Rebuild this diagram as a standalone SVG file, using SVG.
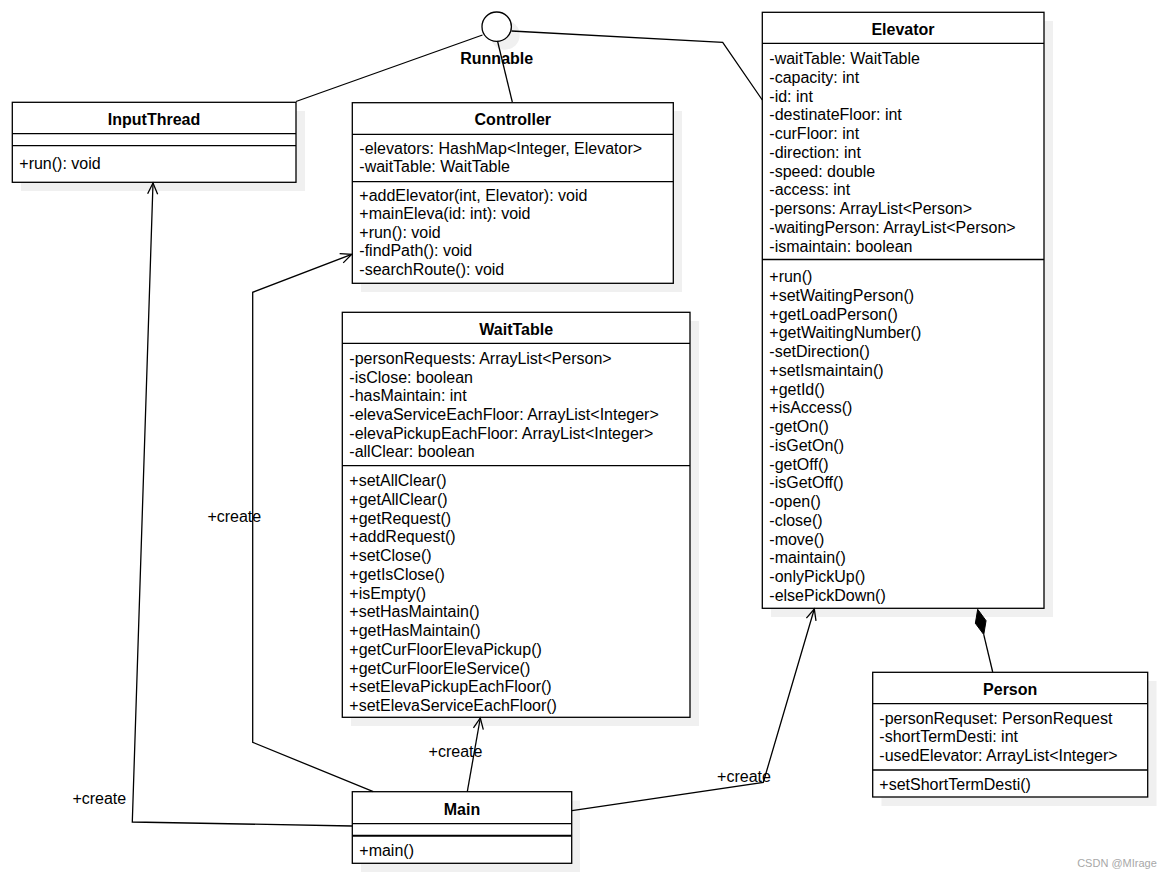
<svg xmlns="http://www.w3.org/2000/svg" width="1171" height="879" viewBox="0 0 1171 879">
<style>
.box{fill:#fff;stroke:#000;stroke-width:1.3}
.sh{fill:#f0f0f0}
.sep{stroke:#000;stroke-width:1.3}
.t{font-family:"Liberation Sans",Arial,sans-serif;font-size:16px;fill:#000}
.h{font-family:"Liberation Sans",Arial,sans-serif;font-size:16px;font-weight:bold;fill:#000;text-anchor:middle}
.ln{fill:none;stroke:#000;stroke-width:1.3}
</style>
<defs>
<marker id="open" markerUnits="userSpaceOnUse" markerWidth="14" markerHeight="14" viewBox="-12 -7 14 14" refX="0" refY="0" orient="auto">
<path d="M-11,-5 L0,0 L-11,5" fill="none" stroke="#000" stroke-width="1.3"/>
</marker>
</defs>
<rect width="1171" height="879" fill="#fff"/>

<g id="runnable">
<circle cx="505" cy="35" r="14.7" class="sh"/>
<circle cx="496.7" cy="26.7" r="14.7" fill="#fff" stroke="#000" stroke-width="1.3"/>
<text class="h" x="496.7" y="63.8">Runnable</text>
</g>

<g id="inputthread">
<rect class="sh" x="21" y="111" width="284" height="80"/>
<rect class="box" x="12.3" y="102.3" width="283.7" height="80"/>
<line class="sep" x1="12.3" y1="133.7" x2="296" y2="133.7"/>
<line class="sep" x1="12.3" y1="145.7" x2="296" y2="145.7"/>
<text class="h" x="154" y="124.5">InputThread</text>
<text class="t" x="19.3" y="168.8">+run(): void</text>
</g>

<g id="controller">
<rect class="sh" x="361" y="111" width="321" height="181"/>
<rect class="box" x="352.3" y="102.7" width="321" height="180.6"/>
<line class="sep" x1="352.3" y1="134.3" x2="673.3" y2="134.3"/>
<line class="sep" x1="352.3" y1="181.7" x2="673.3" y2="181.7"/>
<text class="h" x="512.8" y="124.5">Controller</text>
<text class="t" x="359.3" y="153.8">-elevators: HashMap&lt;Integer, Elevator&gt;</text>
<text class="t" x="359.3" y="171.5">-waitTable: WaitTable</text>
<text class="t" x="359.3" y="200.5">+addElevator(int, Elevator): void</text>
<text class="t" x="359.3" y="218.8">+mainEleva(id: int): void</text>
<text class="t" x="359.3" y="238.2">+run(): void</text>
<text class="t" x="359.3" y="256.2">-findPath(): void</text>
<text class="t" x="359.3" y="274.8">-searchRoute(): void</text>
</g>

<g id="elevator">
<rect class="sh" x="771" y="21" width="282" height="596"/>
<rect class="box" x="762.3" y="12.3" width="281.7" height="596"/>
<line class="sep" x1="762.3" y1="43.3" x2="1044" y2="43.3"/>
<line class="sep" x1="762.3" y1="259.5" x2="1044" y2="259.5"/>
<text class="h" x="903" y="34.7">Elevator</text>
<text class="t" x="769.3" y="64.2">-waitTable: WaitTable</text>
<text class="t" x="769.3" y="82.9">-capacity: int</text>
<text class="t" x="769.3" y="101.7">-id: int</text>
<text class="t" x="769.3" y="120.4">-destinateFloor: int</text>
<text class="t" x="769.3" y="139.1">-curFloor: int</text>
<text class="t" x="769.3" y="157.9">-direction: int</text>
<text class="t" x="769.3" y="176.6">-speed: double</text>
<text class="t" x="769.3" y="195.3">-access: int</text>
<text class="t" x="769.3" y="214.0">-persons: ArrayList&lt;Person&gt;</text>
<text class="t" x="769.3" y="232.8">-waitingPerson: ArrayList&lt;Person&gt;</text>
<text class="t" x="769.3" y="251.5">-ismaintain: boolean</text>
<text class="t" x="769.3" y="282.2">+run()</text>
<text class="t" x="769.3" y="300.9">+setWaitingPerson()</text>
<text class="t" x="769.3" y="319.7">+getLoadPerson()</text>
<text class="t" x="769.3" y="338.4">+getWaitingNumber()</text>
<text class="t" x="769.3" y="357.2">-setDirection()</text>
<text class="t" x="769.3" y="375.9">+setIsmaintain()</text>
<text class="t" x="769.3" y="394.6">+getId()</text>
<text class="t" x="769.3" y="413.4">+isAccess()</text>
<text class="t" x="769.3" y="432.1">-getOn()</text>
<text class="t" x="769.3" y="450.9">-isGetOn()</text>
<text class="t" x="769.3" y="469.6">-getOff()</text>
<text class="t" x="769.3" y="488.3">-isGetOff()</text>
<text class="t" x="769.3" y="507.1">-open()</text>
<text class="t" x="769.3" y="525.8">-close()</text>
<text class="t" x="769.3" y="544.6">-move()</text>
<text class="t" x="769.3" y="563.3">-maintain()</text>
<text class="t" x="769.3" y="582.0">-onlyPickUp()</text>
<text class="t" x="769.3" y="600.8">-elsePickDown()</text>
</g>

<g id="waittable">
<rect class="sh" x="351" y="321" width="348" height="405"/>
<rect class="box" x="342.3" y="312.3" width="347.7" height="405"/>
<line class="sep" x1="342.3" y1="343.3" x2="690" y2="343.3"/>
<line class="sep" x1="342.3" y1="465.7" x2="690" y2="465.7"/>
<text class="h" x="516.2" y="334.8">WaitTable</text>
<text class="t" x="349.3" y="363.8">-personRequests: ArrayList&lt;Person&gt;</text>
<text class="t" x="349.3" y="382.5">-isClose: boolean</text>
<text class="t" x="349.3" y="401.2">-hasMaintain: int</text>
<text class="t" x="349.3" y="419.9">-elevaServiceEachFloor: ArrayList&lt;Integer&gt;</text>
<text class="t" x="349.3" y="438.6">-elevaPickupEachFloor: ArrayList&lt;Integer&gt;</text>
<text class="t" x="349.3" y="457.3">-allClear: boolean</text>
<text class="t" x="349.3" y="486.0">+setAllClear()</text>
<text class="t" x="349.3" y="504.8">+getAllClear()</text>
<text class="t" x="349.3" y="523.5">+getRequest()</text>
<text class="t" x="349.3" y="542.3">+addRequest()</text>
<text class="t" x="349.3" y="561.0">+setClose()</text>
<text class="t" x="349.3" y="579.8">+getIsClose()</text>
<text class="t" x="349.3" y="598.5">+isEmpty()</text>
<text class="t" x="349.3" y="617.3">+setHasMaintain()</text>
<text class="t" x="349.3" y="636.0">+getHasMaintain()</text>
<text class="t" x="349.3" y="654.8">+getCurFloorElevaPickup()</text>
<text class="t" x="349.3" y="673.5">+getCurFloorEleService()</text>
<text class="t" x="349.3" y="692.3">+setElevaPickupEachFloor()</text>
<text class="t" x="349.3" y="711.0">+setElevaServiceEachFloor()</text>
</g>

<g id="main">
<rect class="sh" x="361" y="800.5" width="219" height="71.5"/>
<rect class="box" x="352.3" y="791.7" width="219.4" height="71.6"/>
<line class="sep" x1="352.3" y1="823.7" x2="571.7" y2="823.7"/>
<line x1="352.3" y1="835.7" x2="571.7" y2="835.7" stroke="#000" stroke-width="2"/>
<text class="h" x="462" y="814.8">Main</text>
<text class="t" x="359.3" y="856.2">+main()</text>
</g>

<g id="person">
<rect class="sh" x="881.5" y="681" width="275" height="125"/>
<rect class="box" x="872.7" y="672.3" width="275" height="124.7"/>
<line class="sep" x1="872.7" y1="703.7" x2="1147.7" y2="703.7"/>
<line class="sep" x1="872.7" y1="770" x2="1147.7" y2="770"/>
<text class="h" x="1010.2" y="694.8">Person</text>
<text class="t" x="879.3" y="723.8">-personRequset: PersonRequest</text>
<text class="t" x="879.3" y="742.2">-shortTermDesti: int</text>
<text class="t" x="879.3" y="760.5">-usedElevator: ArrayList&lt;Integer&gt;</text>
<text class="t" x="879.3" y="789.5">+setShortTermDesti()</text>
</g>

<g id="connectors">
<polyline class="ln" points="296,101.5 482.5,35"/>
<line class="ln" x1="512.3" y1="102" x2="497.5" y2="41"/>
<polyline class="ln" points="511.5,31 722.7,42.3 762.3,100"/>
<polyline class="ln" points="352,826 132.3,822 153,183" marker-end="url(#open)"/>
<polyline class="ln" points="373.3,791.7 252.7,742.3 252.7,292.3 351.7,254.3" marker-end="url(#open)"/>
<line class="ln" x1="467.3" y1="791.7" x2="480.3" y2="718" marker-end="url(#open)"/>
<polyline class="ln" points="572,810.7 763.3,782.3 814.3,609" marker-end="url(#open)"/>
<line class="ln" x1="983.75" y1="634.6" x2="992.7" y2="672"/>
<polygon points="977.7,609.3 975.35,623.3 983.75,634.6 986.05,620.7" fill="#000" stroke="#000" stroke-width="1"/>
<text class="t" x="99.3" y="803.8" text-anchor="middle">+create</text>
<text class="t" x="234.3" y="522.2" text-anchor="middle">+create</text>
<text class="t" x="455.5" y="757.2" text-anchor="middle">+create</text>
<text class="t" x="744" y="782.2" text-anchor="middle">+create</text>
</g>

<text x="1117" y="866.5" font-family="'Liberation Sans',Arial,'Noto Sans CJK SC',sans-serif" font-size="11" fill="#a8a8a8" text-anchor="middle">CSDN @MIrage</text>
</svg>
